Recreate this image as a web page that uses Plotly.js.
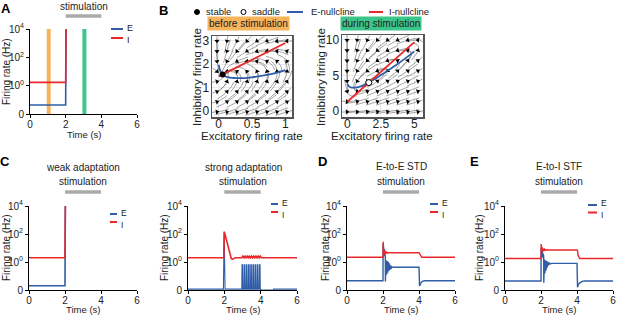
<!DOCTYPE html>
<html><head><meta charset="utf-8">
<script src="https://cdn.plot.ly/plotly-3.0.1.min.js"></script>
<style>html,body{margin:0;padding:0;background:#fff}#chart{width:617px;height:315px}</style>
</head><body><div id="chart"></div>
<script>
// ---------------- DATA ----------------
const yTickVals = [0, 1, 100, 10000];
const yTickText = ['0', '10<sup>0</sup>', '10<sup>2</sup>', '10<sup>4</sup>'];
const xTickVals = [0, 2, 4, 6];

// Panel A
const A_tE = [0, 2, 2.02], A_E = [0.32, 0.32, 1e4];
const A_tI = [0, 2, 2.02], A_I = [1.7, 1.7, 1e4];
const A_snapBefore = 1.05, A_snapDuring = 3.05;

// Panel C weak adaptation
const C1_tE = [0, 2, 2.02], C1_E = [0.15, 0.15, 1e4];
const C1_tI = [0, 2, 2.02], C1_I = [2.0, 2.0, 1e4];

// Panel C strong adaptation
const C2_tE = [0, 1.95, 1.99, 2.04, 2.94];
const C2_E  = [0.03, 0.03, 145, 0.03, 0.03];
const C2_burstT = [2.96, 3.08, 3.2, 3.32, 3.44, 3.56, 3.68, 3.8, 3.92];
const C2_burstPeak = 0.9;
const C2_tEend = [4.04, 4.7, 4.71, 6], C2_Eend = [0, 0, 0.03, 0.03];
const C2_tI = [0, 1.97, 2.0, 2.38, 2.45, 2.6, 2.96];
const C2_I  = [2.0, 2.0, 145, 1.8, 1.55, 2.0, 2.0];
const C2_ripple = 2.6, C2_Ibase = 2.0;
const C2_tIend = [4.05, 6], C2_Iend = [2.0, 2.0];

// Panel D E-to-E STD
const D_tE = [0, 2.0, 2.005, 2.03, 2.05, 2.07, 2.09, 2.11, 2.13, 2.135, 2.17, 2.2, 2.23, 2.26, 2.29, 2.32, 2.35, 2.38, 2.42, 2.46, 2.5, 2.6, 4.0, 4.03, 4.06, 4.12, 4.2, 4.3, 6];
const D_E  = [0.33, 0.33, 20, 4, 12, 3, 8, 2.5, 3, 0.3, 1.3, 0.55, 1.15, 0.62, 1.05, 0.68, 0.95, 0.72, 0.88, 0.76, 0.83, 0.81, 0.81, 0.14, 0.2, 0.27, 0.31, 0.33, 0.33];
const D_tI = [0, 2.0, 2.01, 2.05, 2.08, 2.11, 2.14, 2.17, 2.2, 2.25, 2.3, 4.0, 4.05, 4.1, 4.15, 6];
const D_I  = [2.2, 2.2, 28, 3.0, 6.5, 3.5, 5.5, 4.0, 5.0, 4.4, 4.6, 4.6, 3.6, 2.5, 2.2, 2.2];

// Panel E E-to-I STF
const E_tE = [0, 2.0, 2.005, 2.04, 2.07, 2.1, 2.13, 2.15, 2.155, 2.19, 2.22, 2.25, 2.28, 2.31, 2.34, 2.37, 2.41, 2.45, 2.5, 2.6, 4.0, 4.03, 4.06, 4.12, 4.2, 4.3, 4.4, 6];
const E_E  = [0.32, 0.32, 9.5, 2.5, 6, 2, 4, 2.2, 0.26, 1.5, 0.6, 1.3, 0.7, 1.15, 0.8, 1.05, 0.88, 0.98, 0.93, 0.95, 0.95, 0.1, 0.17, 0.24, 0.28, 0.31, 0.32, 0.32];
const E_tI = [0, 2.0, 2.01, 2.04, 2.07, 2.1, 2.13, 2.16, 2.2, 2.25, 2.3, 2.4, 4.0, 4.03, 4.06, 4.1, 4.15, 6];
const E_I  = [1.8, 1.8, 19, 6, 11, 5.5, 9, 6.2, 8.2, 6.8, 7.5, 7.2, 7.2, 6.5, 3, 2.0, 1.8, 1.8];

// Panel B phase planes
const BL_Enull_x = [0, 0.02, 0.06, 0.12, 0.24, 0.4, 0.5, 0.7, 0.85, 1.0];
const BL_Enull_y = [1.97, 1.75, 1.56, 1.46, 1.41, 1.41, 1.44, 1.53, 1.62, 1.75];
const BL_Inull_x = [0, 1.0];
const BL_Inull_y = [1.48, 2.9];
const BL_stable = [0.06, 1.565];

const BR_Enull_x = [0, 0.1, 0.3, 0.6, 1.0, 1.6, 2.0, 2.5, 3.0, 3.5, 4.0, 4.5, 5.0];
const BR_Enull_y = [3.8, 3.5, 3.3, 3.3, 3.45, 4.0, 4.45, 5.05, 5.65, 6.3, 6.95, 7.65, 8.4];
const BR_Inull_x = [0, 5.0];
const BR_Inull_y = [1.3, 9.7];
const BR_saddle = [1.6, 4.0];

// ---------------- HELPERS ----------------
const W = 617, H = 315;
const P = x => x / W, Q = y => 1 - y / H;
const FONT = 'Liberation Sans, Arial, sans-serif';
const BLUE = '#2f5da8', RED = '#e8282b';
const fs = v => v <= 1 ? v : 1 + Math.log10(v) / 2;   // symmetric-log style axis
const tf = arr => arr.map(fs);

const traces = [];
function line(t, v, ax, color, w) {
  traces.push({x: t, y: tf(v), xaxis: 'x' + ax, yaxis: 'y' + ax, mode: 'lines',
    line: {color: color, width: w || 1.6}, hoverinfo: 'skip', showlegend: false});
}

// Panel A markers (snapshot times)
traces.push({x: [A_snapBefore, A_snapBefore], y: [0, 3], xaxis: 'x', yaxis: 'y', mode: 'lines',
  line: {color: '#f5b45c', width: 4}, showlegend: false});
traces.push({x: [A_snapDuring, A_snapDuring], y: [0, 3], xaxis: 'x', yaxis: 'y', mode: 'lines',
  line: {color: '#3dc68b', width: 4}, showlegend: false});
line(A_tE, A_E, '', BLUE);
line(A_tI, A_I, '', RED);

line(C1_tE, C1_E, 2, BLUE);
line(C1_tI, C1_I, 2, RED);

// strong adaptation: assemble from pieces
(function(){
  const t = C2_tE.slice(), v = C2_E.slice();
  C2_burstT.forEach(t0 => { t.push(t0, t0 + 0.015, t0 + 0.045, t0 + 0.06);
                            v.push(0.03, C2_burstPeak, C2_burstPeak, 0.03); });
  C2_tEend.forEach((x, i) => { t.push(x); v.push(C2_Eend[i]); });
  line(t, v, 3, BLUE, 1.1);
  const ti = C2_tI.slice(), vi = C2_I.slice();
  C2_burstT.forEach(t0 => { ti.push(t0 + 0.06, t0 + 0.12); vi.push(C2_ripple, C2_Ibase); });
  C2_tIend.forEach((x, i) => { ti.push(x); vi.push(C2_Iend[i]); });
  line(ti, vi, 3, RED);
})();

line(D_tE, D_E, 4, BLUE, 1.4);
line(D_tI, D_I, 4, RED, 1.4);
line(E_tE, E_E, 5, BLUE, 1.4);
line(E_tI, E_I, 5, RED, 1.4);

// ---------------- PHASE PLANES ----------------
function interp(xs, ys, x) {
  let i = 1;
  while (i < xs.length - 1 && x > xs[i]) i++;
  const t = (x - xs[i - 1]) / (xs[i] - xs[i - 1]);
  return ys[i - 1] + t * (ys[i] - ys[i - 1]);
}
function phase(ax, cfg) {
  const [l, r, tp, b] = cfg.box;
  const sx = (r - l) / (cfg.xr[1] - cfg.xr[0]);
  const sy = (b - tp) / (cfg.yr[1] - cfg.yr[0]);
  const field = (E, I) => {
    const g = interp(cfg.ex, cfg.ey, E), h = interp(cfg.ix, cfg.iy, E);
    const uE = Math.sqrt(Math.max(E, 0)) + cfg.a * (g - I);
    const uI = Math.sqrt(Math.max(I, 0)) + cfg.b * (h - I);
    return [-E + Math.max(uE, 0) ** 2, (-I + Math.max(uI, 0) ** 2) / cfg.tau];
  };
  const lx = [], ly = [], mx = [], my = [], ang = [];
  const n = 8;
  for (let i = 0; i < n; i++) for (let j = 0; j < n; j++) {
    const X = l + (i + 0.5) * (r - l) / n, Y = tp + (j + 0.5) * (b - tp) / n;
    const E0 = cfg.xr[0] + (X - l) / sx, I0 = cfg.yr[1] - (Y - tp) / sy;
    const [d0, d1] = field(E0, I0);
    const m = Math.hypot(d0 * sx, d1 * sy);
    if (m < 1e-6) continue;
    const seg = [];
    for (const dir of [-1, 1]) {
      let E = E0, I = I0; const pts = [];
      for (let k = 0; k < 12; k++) {
        const [a0, a1] = field(E, I);
        const mm = Math.hypot(a0 * sx, a1 * sy); if (mm < 1e-9) break;
        E += dir * (a0 * sx / mm) / sx; I += dir * (a1 * sy / mm) / sy;
        if (E < cfg.xr[0] || E > cfg.xr[1] || I < cfg.yr[0] || I > cfg.yr[1]) break;
        pts.push([E, I]);
      }
      if (dir < 0) seg.push(...pts.reverse(), [E0, I0]); else seg.push(...pts);
    }
    seg.forEach(p => { lx.push(p[0]); ly.push(p[1]); }); lx.push(null); ly.push(null);
    mx.push(E0); my.push(I0);
    ang.push(Math.atan2(d0 * sx, d1 * sy) * 180 / Math.PI);
  }
  traces.push({x: lx, y: ly, xaxis: 'x' + ax, yaxis: 'y' + ax, mode: 'lines',
    line: {color: '#666', width: 0.6}, hoverinfo: 'skip', showlegend: false});
  traces.push({x: mx, y: my, xaxis: 'x' + ax, yaxis: 'y' + ax, mode: 'markers',
    marker: {symbol: 'triangle-up', size: 4.5, angle: ang, color: '#000'}, hoverinfo: 'skip', showlegend: false});
  traces.push({x: cfg.ex, y: cfg.ey, xaxis: 'x' + ax, yaxis: 'y' + ax, mode: 'lines',
    line: {color: BLUE, width: 1.8, shape: 'spline'}, showlegend: false});
  traces.push({x: cfg.ix, y: cfg.iy, xaxis: 'x' + ax, yaxis: 'y' + ax, mode: 'lines',
    line: {color: RED, width: 1.8}, showlegend: false});
}
phase(6, {ex: BL_Enull_x, ey: BL_Enull_y, ix: BL_Inull_x, iy: BL_Inull_y, a: 0.5, b: 0.5, tau: 1,
  xr: [-0.1, 1.1], yr: [-0.25, 3.2], box: [212, 292, 36, 117]});
phase(7, {ex: BR_Enull_x, ey: BR_Enull_y, ix: BR_Inull_x, iy: BR_Inull_y, a: 0.3, b: 0.3, tau: 1.5,
  xr: [-0.4, 5.65], yr: [-0.85, 10.7], box: [342, 423, 35, 117]});
traces.push({x: [BL_stable[0]], y: [BL_stable[1]], xaxis: 'x6', yaxis: 'y6', mode: 'markers',
  marker: {size: 6, color: '#000'}, showlegend: false});
traces.push({x: [BR_saddle[0]], y: [BR_saddle[1]], xaxis: 'x7', yaxis: 'y7', mode: 'markers',
  marker: {size: 6, color: '#fff', line: {color: '#000', width: 1}}, showlegend: false});

// ---------------- LAYOUT ----------------
const tickFont = {family: FONT, size: 10, color: '#222'};
function tAx(xl, xr, yt, yb, suf, xstand) {
  const o = {};
  o['xaxis' + suf] = {domain: [P(xl), P(xr)], range: [0, 6], tickvals: xTickVals, showline: true, linecolor: '#000',
    linewidth: 1, ticks: 'outside', ticklen: 3, tickcolor: '#000', showgrid: false, zeroline: false,
    tickfont: tickFont, anchor: 'y' + suf, fixedrange: true, ticklabelstandoff: xstand || 0};
  o['yaxis' + suf] = {domain: [Q(yb), Q(yt)], range: [0, 3], tickvals: tf(yTickVals), ticktext: yTickText,
    showline: true, linecolor: '#000', linewidth: 1, ticks: 'outside', ticklen: 3, tickcolor: '#000',
    showgrid: false, zeroline: false, tickfont: tickFont, anchor: 'x' + suf, fixedrange: true};
  return o;
}
const bFont = {family: FONT, size: 12, color: '#222'};
function bAx(l, r, t, b, xr, yr, xt, yt, suf) {
  const o = {};
  const common = {showline: true, mirror: true, linecolor: '#555', linewidth: 1.5, ticks: '', ticklen: 0, showgrid: true,
    gridcolor: '#ebebeb', zeroline: false, tickfont: bFont, fixedrange: true};
  o['xaxis' + suf] = Object.assign({domain: [P(l), P(r)], range: xr, tickvals: xt, anchor: 'y' + suf,
    ticklabelstandoff: -5}, common);
  o['yaxis' + suf] = Object.assign({domain: [Q(b), Q(t)], range: yr, tickvals: yt, anchor: 'x' + suf,
    ticklabelstandoff: -1}, common);
  return o;
}
const layout = Object.assign({
  width: W, height: H, margin: {l: 0, r: 0, t: 0, b: 0}, paper_bgcolor: '#fff', plot_bgcolor: 'rgba(0,0,0,0)',
  showlegend: false, font: {family: FONT, color: '#222'}
},
  tAx(30, 137, 29, 114, '', -2),
  tAx(29, 137, 206, 290, '2', -2),
  tAx(188, 297, 206, 290, '3', -2),
  tAx(347, 455, 206, 290, '4', -2),
  tAx(505, 613, 206, 290, '5', -2),
  bAx(212, 292, 36, 117, [-0.1, 1.1], [-0.25, 3.2], [0, 0.5, 1], [0, 1, 2, 3], '6'),
  bAx(342, 423, 35, 117, [-0.4, 5.65], [-0.85, 10.7], [0, 2.5, 5], [0, 5, 10], '7')
);

const ann = [], shapes = [];
function txt(text, x, y, size, extra) {
  ann.push(Object.assign({text: text, x: P(x), y: Q(y), xref: 'paper', yref: 'paper', showarrow: false,
    font: {family: FONT, size: size || 10, color: '#222'}, xanchor: 'center', yanchor: 'middle', borderpad: 0}, extra || {}));
}
function hline(x0, x1, y, color, w) {
  shapes.push({type: 'line', xref: 'paper', yref: 'paper', x0: P(x0), x1: P(x1), y0: Q(y), y1: Q(y),
    line: {color: color, width: w}});
}
// panel letters
const LF = {family: FONT, size: 13, color: '#000'};
txt('<b>A</b>', 6, 8, 13, {font: LF});
txt('<b>B</b>', 163, 10, 13, {font: LF});
txt('<b>C</b>', 5, 161, 13, {font: LF});
txt('<b>D</b>', 322, 161, 13, {font: LF});
txt('<b>E</b>', 474, 161, 13, {font: LF});

// stimulation labels & bars
function stim(axs, cx, yText, yBar) {
  txt('stimulation', cx, yText, 10);
  shapes.push({type: 'line', xref: 'x' + axs, yref: 'paper', x0: 2, x1: 4, y0: Q(yBar), y1: Q(yBar),
    line: {color: '#aaaaaa', width: 3.5}});
}
stim('', 84, 6, 16);
stim('2', 83, 181, 192);
stim('3', 243, 181, 192);
stim('4', 401, 181, 192);
stim('5', 559, 181, 192);
txt('weak adaptation', 83, 167, 10);
txt('strong adaptation', 243, 167, 10);
txt('E-to-E STD', 401, 166, 10);
txt('E-to-I STF', 559, 166, 10);

// legends for time panels (labels meet at the midpoint so their boxes do not overlap)
function leg(x0, x1, yE, yI, fsz) {
  hline(x0, x1, yE, BLUE, 2); hline(x0, x1, yI, RED, 2);
  const mid = (yE + yI) / 2;
  txt('E', x1 + 3, mid + 0.5, fsz, {xanchor: 'left', yanchor: 'bottom'});
  txt('I', x1 + 3, mid + 0.5, fsz, {xanchor: 'left', yanchor: 'top'});
}
leg(111, 123, 29, 38, 9);
leg(110, 117, 214, 222, 8.5);
leg(271, 278, 204, 212, 8.5);
leg(430, 438, 204, 212, 8.5);
leg(588, 597, 205, 212.5, 8.5);

// axis titles for time panels
function tTitles(cx, yx, xy, cy, fsz) {
  txt('Firing rate (Hz)', yx, cy, 10, {textangle: -90});
  txt('Time (s)', cx, xy, fsz || 10);
}
tTitles(84, 7, 134.5, 72, 9.5);
tTitles(83, 6, 309.5, 248, 9.5);
tTitles(243, 164, 309.5, 248, 9.5);
tTitles(401, 325, 309.5, 248, 9.5);
tTitles(559, 479, 309.5, 248, 9.5);

// B legend row
shapes.push({type: 'circle', xref: 'paper', yref: 'paper', x0: P(194.5), x1: P(199.5), y0: Q(14.5), y1: Q(9.5),
  fillcolor: '#000', line: {color: '#000', width: 1}});
txt('stable', 205, 12, 9.5, {xanchor: 'left'});
shapes.push({type: 'circle', xref: 'paper', yref: 'paper', x0: P(241), x1: P(246), y0: Q(14.5), y1: Q(9.5),
  fillcolor: '#fff', line: {color: '#000', width: 1}});
txt('saddle', 251, 12, 9.5, {xanchor: 'left'});
hline(287, 303, 12, BLUE, 2);
txt('E-nullcline', 310, 12, 9.5, {xanchor: 'left'});
hline(369, 383, 12, RED, 2);
txt('I-nullcline', 388, 12, 9.5, {xanchor: 'left'});
txt('before stimulation', 248, 24, 10, {bgcolor: '#f5b45c', borderpad: 1});
txt('during stimulation', 381, 24, 10, {bgcolor: '#3dc68b', borderpad: 1});
// B axis titles
txt('Inhibitory firing rate', 197, 77, 11.5, {textangle: -90});
txt('Inhibitory firing rate', 321, 77, 11.5, {textangle: -90});
txt('Excitatory firing rate', 252, 136, 11.5);
txt('Excitatory firing rate', 382, 136, 11.5);

layout.annotations = ann;
layout.shapes = shapes;
Plotly.newPlot('chart', traces, layout, {displayModeBar: false, staticPlot: true});
</script></body></html>
